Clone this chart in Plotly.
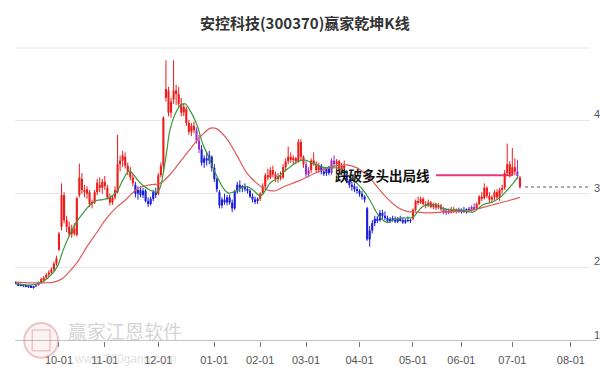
import plotly.graph_objects as go
import pandas as pd

# ---------------- trading calendar (SSE/SZSE 2024-09 .. 2025-08) ----------------
holidays = ["2024-09-16", "2024-09-17", "2024-10-01", "2024-10-02", "2024-10-03",
            "2024-10-04", "2024-10-07", "2025-01-01", "2025-01-28", "2025-01-29",
            "2025-01-30", "2025-01-31", "2025-02-03", "2025-02-04", "2025-04-04",
            "2025-05-01", "2025-05-02", "2025-05-05", "2025-06-02"]
calendar = [d for d in pd.bdate_range("2024-09-02", "2025-08-15")
            if d.strftime("%Y-%m-%d") not in holidays]
cal_str = [d.strftime("%Y-%m-%d") for d in calendar]

start_date = "2024-09-04"
month_ticks = ["2024-10", "2024-11", "2024-12", "2025-01", "2025-02", "2025-03",
               "2025-04", "2025-05", "2025-06", "2025-07", "2025-08"]
tick_text = ["10-01", "11-01", "12-01", "01-01", "02-01", "03-01",
             "04-01", "05-01", "06-01", "07-01", "08-01"]

# ---------------- daily OHLC ----------------
opens = [1.80, 1.78, 1.76, 1.75, 1.76, 1.74, 1.75, 1.73, 1.74, 1.77,
         1.79, 1.84, 1.86, 1.90, 1.93, 1.97, 2.05, 2.24, 2.55, 2.98,
         2.64, 2.55, 2.45, 2.52, 2.44, 2.98, 3.20, 3.05, 3.00, 3.02,
         2.86, 2.88, 3.02, 3.12, 3.08, 3.16, 3.08, 2.95, 2.88, 2.95,
         3.02, 3.40, 3.45, 3.50, 3.38, 3.30, 3.22, 3.12, 3.00, 3.05,
         2.98, 3.04, 2.90, 2.86, 2.93, 3.02, 3.00, 3.25, 3.38, 4.30,
         4.40, 4.10, 4.28, 4.40, 4.35, 4.22, 4.10, 4.15, 3.96, 3.84,
         3.92, 3.86, 3.72, 3.60, 3.42, 3.48, 3.45, 3.50, 3.35, 3.20,
         3.02, 2.84, 2.92, 2.88, 2.95, 2.88, 2.80, 3.03, 3.12, 3.08,
         3.10, 3.06, 3.04, 2.96, 2.92, 2.90, 2.93, 3.00, 3.10, 3.25,
         3.22, 3.32, 3.26, 3.20, 3.24, 3.22, 3.36, 3.44, 3.50, 3.46,
         3.48, 3.44, 3.70, 3.50, 3.40, 3.26, 3.32, 3.45, 3.40, 3.32,
         3.38, 3.30, 3.28, 3.34, 3.28, 3.45, 3.40, 3.44, 3.32, 3.38,
         3.30, 3.18, 3.12, 3.10, 3.06, 3.04, 3.00, 2.96, 2.80, 2.38,
         2.50, 2.60, 2.66, 2.64, 2.74, 2.70, 2.67, 2.63, 2.65, 2.66,
         2.62, 2.66, 2.64, 2.61, 2.64, 2.63, 2.66, 2.78, 2.90, 2.88,
         2.93, 2.86, 2.84, 2.88, 2.82, 2.85, 2.81, 2.84, 2.79, 2.75,
         2.77, 2.74, 2.79, 2.76, 2.78, 2.76, 2.78, 2.75, 2.79, 2.77,
         2.82, 2.80, 2.86, 2.96, 2.94, 3.08, 2.97, 2.92, 2.95, 3.02,
         2.95, 3.05, 3.08, 3.28, 3.40, 3.26, 3.36, 3.30, 3.22]
highs = [1.81, 1.79, 1.78, 1.77, 1.77, 1.76, 1.76, 1.75, 1.78, 1.81,
         1.86, 1.88, 1.92, 1.96, 2.00, 2.08, 2.16, 2.48, 3.14, 3.02,
         2.70, 2.62, 2.58, 2.60, 2.96, 3.41, 3.28, 3.12, 3.10, 3.05,
         2.92, 3.05, 3.20, 3.22, 3.20, 3.24, 3.12, 3.00, 2.98, 3.10,
         3.80, 3.52, 3.58, 3.56, 3.42, 3.36, 3.26, 3.16, 3.10, 3.10,
         3.08, 3.06, 2.95, 2.96, 3.05, 3.08, 3.28, 3.42, 4.05, 4.81,
         4.45, 4.30, 4.81, 4.48, 4.45, 4.30, 4.22, 4.18, 4.00, 3.96,
         3.98, 3.90, 3.80, 3.66, 3.52, 3.56, 3.58, 3.52, 3.40, 3.22,
         3.05, 2.95, 3.00, 2.98, 2.99, 2.92, 3.05, 3.16, 3.18, 3.12,
         3.14, 3.10, 3.06, 3.00, 2.96, 2.95, 3.02, 3.14, 3.28, 3.34,
         3.36, 3.38, 3.30, 3.28, 3.30, 3.40, 3.48, 3.64, 3.56, 3.52,
         3.50, 3.74, 3.74, 3.52, 3.44, 3.36, 3.48, 3.56, 3.44, 3.42,
         3.40, 3.36, 3.36, 3.38, 3.48, 3.52, 3.47, 3.46, 3.42, 3.45,
         3.32, 3.20, 3.16, 3.14, 3.10, 3.06, 3.04, 2.98, 2.82, 2.56,
         2.64, 2.70, 2.70, 2.78, 2.78, 2.76, 2.70, 2.68, 2.70, 2.69,
         2.68, 2.70, 2.67, 2.66, 2.69, 2.66, 2.80, 2.92, 2.96, 2.96,
         2.95, 2.90, 2.92, 2.90, 2.88, 2.88, 2.87, 2.86, 2.82, 2.80,
         2.80, 2.82, 2.82, 2.80, 2.81, 2.80, 2.82, 2.80, 2.82, 2.84,
         2.87, 2.88, 2.98, 3.02, 3.14, 3.10, 3.02, 2.98, 3.05, 3.06,
         3.08, 3.12, 3.32, 3.68, 3.44, 3.62, 3.48, 3.46, 3.24]
lows = [1.77, 1.75, 1.74, 1.73, 1.73, 1.72, 1.72, 1.71, 1.73, 1.75,
        1.78, 1.81, 1.84, 1.87, 1.90, 1.95, 2.02, 2.22, 2.50, 2.60,
        2.48, 2.42, 2.40, 2.43, 2.42, 2.95, 3.00, 2.95, 2.93, 2.82,
        2.80, 2.86, 2.98, 3.02, 3.00, 3.05, 2.92, 2.84, 2.85, 2.92,
        3.00, 3.30, 3.36, 3.34, 3.25, 3.18, 3.10, 2.95, 2.92, 2.95,
        2.94, 2.88, 2.82, 2.84, 2.90, 2.94, 2.98, 3.22, 3.30, 4.25,
        4.05, 4.03, 4.22, 4.20, 4.18, 4.05, 4.05, 3.92, 3.80, 3.78,
        3.82, 3.68, 3.55, 3.38, 3.35, 3.38, 3.40, 3.30, 3.16, 3.02,
        2.80, 2.80, 2.85, 2.84, 2.85, 2.75, 2.78, 3.00, 3.02, 3.02,
        3.03, 3.00, 2.94, 2.88, 2.86, 2.86, 2.90, 2.98, 3.06, 3.18,
        3.20, 3.22, 3.16, 3.15, 3.18, 3.20, 3.30, 3.40, 3.42, 3.40,
        3.40, 3.42, 3.45, 3.35, 3.22, 3.22, 3.28, 3.38, 3.28, 3.28,
        3.26, 3.24, 3.24, 3.25, 3.26, 3.36, 3.32, 3.28, 3.28, 3.30,
        3.14, 3.08, 3.04, 3.02, 3.00, 2.96, 2.92, 2.88, 2.36, 2.28,
        2.46, 2.56, 2.60, 2.62, 2.66, 2.64, 2.60, 2.60, 2.62, 2.60,
        2.60, 2.62, 2.59, 2.59, 2.61, 2.60, 2.64, 2.76, 2.85, 2.86,
        2.84, 2.80, 2.82, 2.80, 2.79, 2.78, 2.79, 2.76, 2.72, 2.71,
        2.72, 2.73, 2.74, 2.73, 2.74, 2.73, 2.74, 2.73, 2.75, 2.75,
        2.78, 2.78, 2.84, 2.90, 2.92, 2.94, 2.88, 2.87, 2.90, 2.92,
        2.90, 3.00, 3.05, 3.24, 3.22, 3.24, 3.25, 3.20, 3.07]
closes = [1.78, 1.76, 1.75, 1.76, 1.74, 1.75, 1.73, 1.74, 1.77, 1.79,
          1.84, 1.86, 1.90, 1.93, 1.97, 2.05, 2.12, 2.46, 2.98, 2.64,
          2.55, 2.45, 2.52, 2.46, 2.94, 3.22, 3.05, 3.02, 3.06, 2.86,
          2.88, 3.02, 3.15, 3.08, 3.16, 3.10, 2.95, 2.88, 2.95, 3.05,
          3.40, 3.45, 3.52, 3.38, 3.30, 3.22, 3.14, 3.00, 3.05, 2.98,
          3.04, 2.90, 2.86, 2.93, 3.02, 2.98, 3.25, 3.38, 4.03, 4.42,
          4.10, 4.25, 4.40, 4.35, 4.22, 4.10, 4.18, 3.96, 3.84, 3.92,
          3.86, 3.72, 3.60, 3.42, 3.48, 3.45, 3.52, 3.35, 3.20, 3.06,
          2.84, 2.92, 2.88, 2.95, 2.88, 2.80, 3.03, 3.12, 3.08, 3.10,
          3.06, 3.04, 2.96, 2.92, 2.90, 2.93, 3.00, 3.10, 3.25, 3.22,
          3.32, 3.26, 3.20, 3.24, 3.22, 3.36, 3.44, 3.50, 3.46, 3.48,
          3.44, 3.70, 3.50, 3.40, 3.26, 3.32, 3.45, 3.40, 3.32, 3.38,
          3.30, 3.28, 3.34, 3.28, 3.45, 3.40, 3.44, 3.32, 3.38, 3.34,
          3.18, 3.12, 3.10, 3.06, 3.04, 3.00, 2.96, 2.92, 2.38, 2.50,
          2.60, 2.66, 2.64, 2.74, 2.70, 2.67, 2.63, 2.65, 2.66, 2.62,
          2.66, 2.64, 2.61, 2.64, 2.63, 2.64, 2.78, 2.90, 2.88, 2.93,
          2.86, 2.84, 2.88, 2.82, 2.85, 2.81, 2.84, 2.79, 2.75, 2.77,
          2.74, 2.79, 2.76, 2.78, 2.76, 2.78, 2.75, 2.79, 2.77, 2.82,
          2.80, 2.86, 2.96, 2.94, 3.08, 2.97, 2.92, 2.95, 3.02, 2.95,
          3.05, 3.08, 3.28, 3.40, 3.26, 3.36, 3.30, 3.24, 3.09]

# trend colour state of each candle: r = red, b = blue, p = purple (transition)
state_runs = [("b", 8), ("p", 2), ("r", 37), ("b", 9), ("r", 15), ("p", 2),
              ("b", 23), ("r", 18), ("p", 2), ("r", 4), ("b", 4), ("p", 2),
              ("r", 4), ("b", 26), ("r", 12), ("p", 3), ("r", 3), ("b", 5),
              ("p", 2), ("r", 16), ("p", 1), ("r", 1)]

# ---------------- moving-average lines (read at points off the picture) ----------------
ma_short_pos = [2, 6, 10, 13, 16, 18.5, 20.6, 23.3, 26, 28.5, 31, 34, 36.3, 39, 41.8,
                44, 46.5, 48, 50, 52, 54.7, 57.5, 58.7, 60, 61.4, 62.6, 64.5, 66.5,
                68.5, 70.4, 72.4, 73.6, 75.6, 77.5, 79.5, 81.4, 83.4, 85.4, 87.3,
                89.3, 92.5, 95.2, 98, 100, 101.8, 104.6, 107, 109.7, 112.4, 115,
                117.6, 120.3, 122.6, 125.4, 128.2, 130.5, 133.3, 136, 138.4, 141.1,
                143.1, 145, 147.8, 150.1, 152.9, 155.6, 158, 160, 162, 164.7, 167.4,
                169.8, 172.5, 176.4, 181.5, 185.5, 189.4, 192.2, 195, 197.3, 199.3]
ma_short_val = [1.78, 1.76, 1.77, 1.81, 1.90, 2.02, 2.23, 2.45, 2.62, 2.74, 2.84, 2.91,
                2.92, 2.95, 3.03, 3.18, 3.31, 3.27, 3.18, 3.11, 3.05, 3.02, 3.08, 3.29,
                3.60, 3.87, 4.07, 4.19, 4.22, 4.13, 4.00, 3.89, 3.66, 3.52, 3.35, 3.21,
                3.08, 3.01, 3.02, 3.05, 3.10, 3.05, 2.97, 3.04, 3.14, 3.21, 3.29, 3.36,
                3.43, 3.46, 3.43, 3.39, 3.36, 3.35, 3.35, 3.32, 3.22, 3.14, 3.05, 2.91,
                2.78, 2.68, 2.61, 2.64, 2.67, 2.67, 2.68, 2.76, 2.83, 2.85, 2.85, 2.80,
                2.78, 2.78, 2.75, 2.85, 2.89, 2.95, 3.05, 3.14, 3.23]
ma_long_pos = [2, 8, 13, 17, 20, 22, 26, 30, 34, 37.8, 41.8, 45, 50, 54.7, 58.7, 62.6,
               66.5, 70.4, 74.4, 78.5, 81, 85, 89, 92.8, 96.7, 100.7, 104, 107, 113.6,
               120.3, 125.4, 132, 136, 140, 144, 147.8, 151.7, 155.6, 159.5, 164.7,
               169.8, 175, 181.5, 189.4, 196, 200]
ma_long_val = [1.80, 1.79, 1.79, 1.80, 1.84, 1.90, 2.06, 2.28, 2.48, 2.67, 2.82, 2.91,
               3.07, 3.12, 3.14, 3.26, 3.43, 3.60, 3.77, 3.89, 3.88, 3.74, 3.51, 3.28,
               3.14, 3.05, 3.04, 3.09, 3.18, 3.29, 3.36, 3.39, 3.35, 3.25, 3.09, 2.94,
               2.82, 2.76, 2.75, 2.74, 2.75, 2.76, 2.78, 2.85, 2.91, 2.95]

exit_line_level = 3.25
exit_line_span = (167, 197)
exit_label = "跌破多头出局线"
title_text = "安控科技(300370)赢家乾坤K线"

# ---------------- build ----------------
start = cal_str.index(start_date)
xs = list(range(start, start + len(closes)))
states = "".join(s * n for s, n in state_runs)
tick_vals = [next(i for i, d in enumerate(cal_str) if d.startswith(m)) for m in month_ticks]
last_idx = xs[-1]
x_max = 227.5

colors = {"r": "#ee1c1c", "b": "#1c1cdc", "p": "#9b30c8"}

fig = go.Figure()

# exit line (under candles)
fig.add_trace(go.Scatter(x=list(exit_line_span), y=[exit_line_level] * 2, mode="lines",
                         line=dict(color="#e8357c", width=2), hoverinfo="skip"))

# wicks, one trace per colour
for key in ["b", "p", "r"]:
    wx, wy = [], []
    for i, s in enumerate(states):
        if s == key:
            wx += [xs[i], xs[i], None]
            wy += [lows[i], highs[i], None]
    fig.add_trace(go.Scatter(x=wx, y=wy, mode="lines", line=dict(color=colors[key], width=1),
                             hoverinfo="skip"))

# bodies
body_base = [min(o, c) for o, c in zip(opens, closes)]
body_len = [max(abs(c - o), 0.012) for o, c in zip(opens, closes)]
fig.add_trace(go.Bar(x=xs, y=body_len, base=body_base, width=0.82,
                     marker=dict(color=[colors[s] for s in states], line=dict(width=0)),
                     hoverinfo="skip"))

fig.add_trace(go.Scatter(x=ma_long_pos, y=ma_long_val, mode="lines",
                         line=dict(color="#e05a5a", width=1.2, shape="spline", smoothing=1.0),
                         hoverinfo="skip"))
fig.add_trace(go.Scatter(x=ma_short_pos, y=ma_short_val, mode="lines",
                         line=dict(color="#3a9a3a", width=1.2, shape="spline", smoothing=1.0),
                         hoverinfo="skip"))

# last close dotted line
fig.add_trace(go.Scatter(x=[last_idx + 2, x_max], y=[closes[-1]] * 2, mode="lines",
                         line=dict(color="#555555", width=1, dash="dot"), hoverinfo="skip"))

fig.add_annotation(x=165.6, y=exit_line_level, xref="x", yref="y", text="<b>%s</b>" % exit_label,
                   showarrow=False, xanchor="right", yanchor="middle",
                   font=dict(size=13.5, color="#111111", family="Noto Sans CJK SC"))

# watermark
fig.add_shape(type="circle", xref="paper", yref="paper", x0=0.016, x1=0.075, y0=-0.058, y1=0.062,
              line=dict(color="rgba(215,130,130,0.45)", width=2), fillcolor="rgba(235,190,190,0.18)")
fig.add_shape(type="rect", xref="paper", yref="paper", x0=0.030, x1=0.061, y0=-0.034, y1=0.038,
              line=dict(color="rgba(215,130,130,0.40)", width=1.5), fillcolor="rgba(0,0,0,0)")
fig.add_annotation(x=0.191, y=0.035, xref="paper", yref="paper", text="赢家江恩软件",
                   xanchor="center", yanchor="middle", showarrow=False,
                   font=dict(size=19, color="rgba(175,175,175,0.55)", family="Noto Sans CJK SC"))
fig.add_annotation(x=0.191, y=-0.062, xref="paper", yref="paper", text="www.360gann.com",
                   xanchor="center", yanchor="middle", showarrow=False,
                   font=dict(size=12, color="rgba(175,175,175,0.40)", family="Liberation Sans"))

# title separator and bottom axis line
fig.add_shape(type="line", xref="paper", yref="paper", x0=0, x1=1.0, y0=1.0138, y1=1.0138,
              line=dict(color="#e6e6e6", width=1))
fig.add_shape(type="line", xref="paper", yref="y", x0=0, x1=1.012, y0=1, y1=1,
              line=dict(color="#888888", width=1))

fig.update_layout(
    width=600, height=371, margin=dict(l=15, r=10, t=52, b=30),
    paper_bgcolor="white", plot_bgcolor="white", showlegend=False, barmode="overlay",
    title=dict(text="<b>%s</b>" % title_text, x=0.508, xref="container", xanchor="center",
               y=1 - 24 / 371, yref="container", yanchor="middle",
               font=dict(size=15, color="#333333", family="Noto Sans CJK SC")),
    xaxis=dict(range=[1.73, x_max], tickvals=tick_vals, ticktext=tick_text,
               showgrid=False, zeroline=False, showline=False, ticks="outside",
               ticklen=5, tickcolor="#777777", tickwidth=1, ticklabelstandoff=4,
               tickfont=dict(size=11, color="#555555", family="Liberation Sans"),
               automargin=False, fixedrange=True),
    yaxis=dict(side="right", range=[1, 4.923], tickvals=[1, 2, 3, 4], showgrid=True,
               gridcolor="#e8e8e8", gridwidth=1, zeroline=False, showline=False, ticks="",
               ticklabelshift=-6, ticklabelstandoff=3,
               tickfont=dict(size=11, color="#555555", family="Liberation Sans"),
               automargin=False, fixedrange=True),
)

fig.write_html("out.html")
